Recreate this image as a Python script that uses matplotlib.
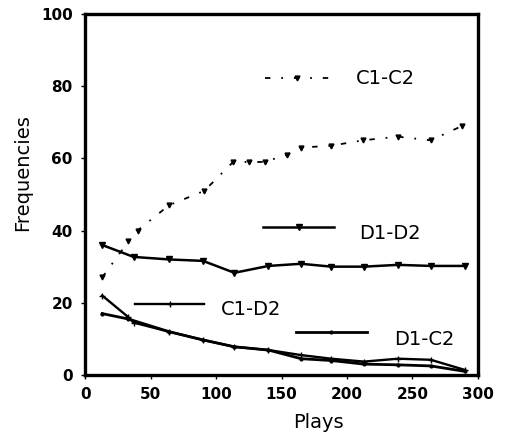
#!/usr/bin/env python3
"""Frequencies of the four joint outcomes (C1-C2, D1-D2, C1-D2, D1-C2)
over successive plays, with in-plot line keys."""
import matplotlib
matplotlib.use("Agg")
import matplotlib.pyplot as plt

# plays at which each outcome frequency was recorded
cc_x = [13, 33, 40, 64, 91, 113, 125, 137, 154, 165, 188, 212, 239, 264, 288]
cc_y = [27, 37, 40, 47, 51, 59, 59, 59, 61, 63, 63.5, 65, 66, 65, 69]

dd_x = [13, 37, 64, 90, 114, 140, 165, 188, 213, 239, 264, 290]
dd_y = [36, 32.7, 32, 31.6, 28.3, 30.2, 30.8, 30, 30, 30.5, 30.2, 30.2]

cd_x = [13, 33, 37, 64, 90, 114, 140, 165, 188, 213, 239, 264, 290]
cd_y = [22, 16, 14.5, 12, 9.7, 7.8, 6.9, 5.5, 4.5, 3.7, 4.5, 4.2, 1.4]

dc_x = [13, 33, 64, 90, 114, 140, 165, 188, 213, 239, 264, 290]
dc_y = [17, 15.5, 12, 9.7, 7.8, 6.9, 4.5, 4, 3, 2.8, 2.5, 1]

# (label, key line x-range, key y, text x, text y)
keys = [
    ("C1-C2", (137, 186), 82.3, 207, 82),
    ("D1-D2", (136, 190), 41, 209, 39.3),
    ("C1-D2", (38, 91), 19.7, 104, 18),
    ("D1-C2", (161, 215), 12, 236, 9.7),
]

styles = {
    "C1-C2": dict(color="black", lw=1.3, ls=(0, (3, 6, 1, 6)),
                  marker="v", ms=3.5),
    "D1-D2": dict(color="black", lw=1.8, ls="-", marker="v", ms=4),
    "C1-D2": dict(color="black", lw=1.7, ls="-", marker="+", ms=5),
    "D1-C2": dict(color="black", lw=2.0, ls="-", marker=".", ms=4),
}

fig = plt.figure(figsize=(5.1, 4.37), dpi=100)
ax = fig.add_axes([0.167, 0.142, 0.770, 0.826])

ax.plot(cc_x, cc_y, **styles["C1-C2"])
ax.plot(dd_x, dd_y, **styles["D1-D2"])
ax.plot(cd_x, cd_y, **styles["C1-D2"])
ax.plot(dc_x, dc_y, **styles["D1-C2"])

for name, (x0, x1), ky, tx, ty in keys:
    st = dict(styles[name])
    st.pop("marker")
    st.pop("ms")
    ax.plot([x0, x1], [ky, ky], **st)
    ax.plot([(x0 + x1) / 2], [ky], marker=styles[name]["marker"],
            ms=styles[name]["ms"], color="black")
    ax.text(tx, ty, name, fontsize=14, va="center", ha="left")

ax.set_xlim(0, 300)
ax.set_ylim(0, 100)
ax.set_xticks(range(0, 301, 50))
ax.set_yticks(range(0, 101, 20))
ax.tick_params(axis="both", length=3, width=1, labelsize=11, pad=6)
for lbl in ax.get_xticklabels() + ax.get_yticklabels():
    lbl.set_fontweight("bold")
for s in ax.spines.values():
    s.set_linewidth(2.4)

ax.set_xlabel("Plays", fontsize=14)
ax.set_ylabel("Frequencies", fontsize=14)
ax.xaxis.set_label_coords(0.595, -0.105)
ax.yaxis.set_label_coords(-0.135, 0.56)

fig.savefig("out.png", dpi=100)
